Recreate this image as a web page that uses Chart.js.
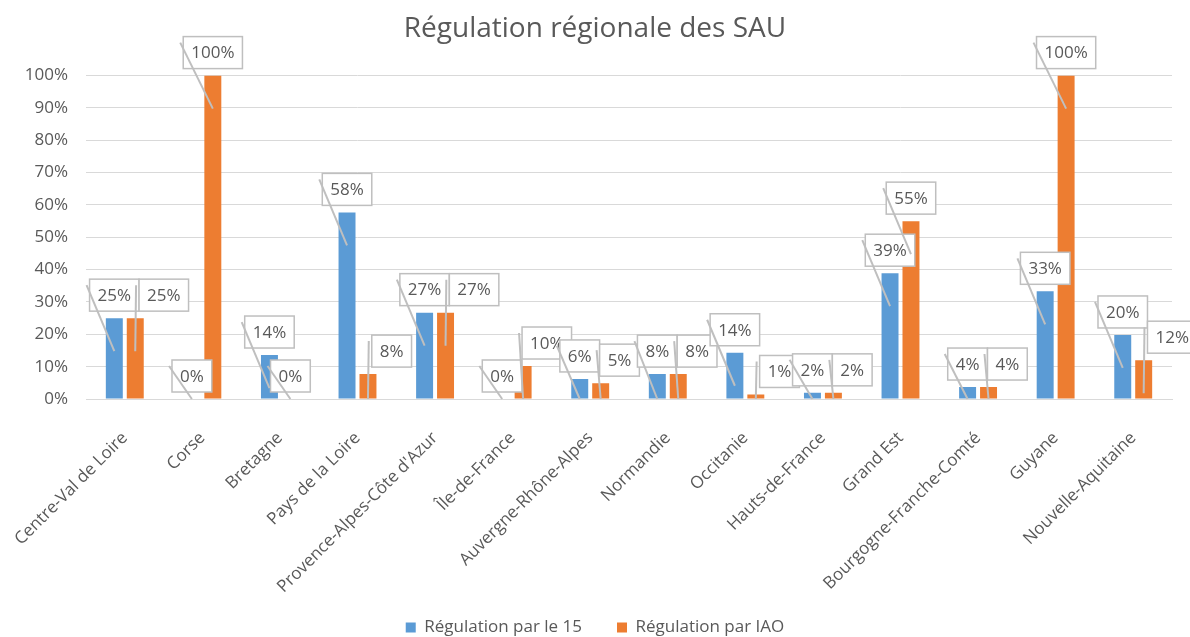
<!DOCTYPE html>
<html>
<head>
<meta charset="utf-8">
<script src="https://cdn.jsdelivr.net/npm/chart.js@4"></script>
<style>
  html, body { margin: 0; padding: 0; background: #fff; }
  #wrap { width: 1190px; height: 637px; }
</style>
</head>
<body>
<div id="wrap"><canvas id="chart" width="1190" height="637"></canvas></div>
<script>
// données
const categories = [
    'Centre-Val de Loire', 'Corse', 'Bretagne', 'Pays de la Loire',
    'Provence-Alpes-Côte d\'Azur', 'Île-de-France', 'Auvergne-Rhône-Alpes',
    'Normandie', 'Occitanie', 'Hauts-de-France', 'Grand Est',
    'Bourgogne-Franche-Comté', 'Guyane', 'Nouvelle-Aquitaine'
];
const valuesSamu = [25, 0, 13.6, 57.7, 26.7, 0, 6.2, 7.7, 14.3, 1.9, 38.9, 3.7, 33.3, 19.8];
const valuesIao = [25, 100, 0, 7.7, 26.7, 10.2, 4.9, 7.7, 1.4, 1.9, 55, 3.7, 100, 12];
const seriesNames = ['Régulation par le 15', 'Régulation par IAO'];
const yMax = 100;
const yStep = 10;

const FONT = '"Open Sans", "DejaVu Sans", sans-serif';
const GREY_TEXT = '#595959';
const GREY_LINE = '#BFBFBF';

// étiquettes encadrées avec ligne de rappel (style Excel)
function makeBox(ctx, bar, value) {
    const text = Math.round(value) + '%';
    const w = ctx.measureText(text).width + 16;
    const h = 32;
    return { text: text, x: bar.x - w / 2, y: bar.y - 7 - h, w: w, h: h, cx: bar.x };
}

const labelBoxes = {
    id: 'labelBoxes',
    afterLayout(chart) {
        // laisser déborder les libellés inclinés vers la légende
        chart.scales.x.bottom += 25;
    },
    afterDatasetsDraw(chart) {
        const ctx = chart.ctx;
        const bars0 = chart.getDatasetMeta(0).data;
        const bars1 = chart.getDatasetMeta(1).data;
        const base = chart.scales.y.getPixelForValue(0);
        ctx.save();
        ctx.font = '17px ' + FONT;
        const boxes = [];
        categories.forEach((c, i) => {
            const a = makeBox(ctx, bars0[i], valuesSamu[i]);
            const b = makeBox(ctx, bars1[i], valuesIao[i]);
            // décaler l'étiquette IAO quand elle gêne celle du 15
            const near = b.y < a.y + a.h + 11 && b.y + b.h + 11 > a.y;
            const blueRight = bars0[i].x + bars0[i].width / 2;
            const onBar = b.x < blueRight && b.y - 20 > bars0[i].y;
            if (b.x < a.x + a.w && (near || onBar)) b.x = a.x + a.w;
            boxes.push(a, b);
        });

        boxes.forEach(bx => {
            ctx.fillStyle = '#fff';
            ctx.fillRect(bx.x, bx.y, bx.w, bx.h);
            ctx.strokeStyle = GREY_LINE;
            ctx.lineWidth = 1.5;
            ctx.strokeRect(bx.x, bx.y, bx.w, bx.h);
            ctx.fillStyle = GREY_TEXT;
            ctx.textAlign = 'center';
            ctx.textBaseline = 'middle';
            ctx.fillText(bx.text, bx.x + bx.w / 2, bx.y + bx.h / 2 + 1);
        });

        ctx.strokeStyle = GREY_LINE;
        ctx.lineWidth = 2;
        boxes.forEach(bx => {
            ctx.beginPath();
            ctx.moveTo(bx.x - 3, bx.y + 6);
            ctx.lineTo(bx.cx, Math.min(bx.y + bx.h + 40, base));
            ctx.stroke();
        });
        ctx.restore();
    }
};

new Chart(document.getElementById('chart'), {
    type: 'bar',
    data: {
        labels: categories,
        datasets: [
            {
                label: seriesNames[0],
                data: valuesSamu,
                backgroundColor: '#5B9BD5',
                categoryPercentage: 0.54,
                barPercentage: 0.81
            },
            {
                label: seriesNames[1],
                data: valuesIao,
                backgroundColor: '#ED7D31',
                categoryPercentage: 0.54,
                barPercentage: 0.81
            }
        ]
    },
    options: {
        responsive: false,
        animation: false,
        layout: { padding: { left: 0, right: 0, top: 0, bottom: -9 } },
        plugins: {
            title: {
                display: true,
                text: 'Régulation régionale des SAU',
                color: GREY_TEXT,
                font: { family: FONT, size: 28, weight: 'normal' },
                padding: { top: 12, bottom: 30 }
            },
            legend: {
                position: 'bottom',
                labels: {
                    color: GREY_TEXT,
                    font: { family: FONT, size: 17 },
                    boxWidth: 10,
                    boxHeight: 10,
                    padding: 35
                }
            },
            tooltip: { enabled: false }
        },
        scales: {
            x: {
                grid: { display: false },
                border: { color: '#D9D9D9' },
                ticks: {
                    color: GREY_TEXT,
                    font: { family: FONT, size: 17 },
                    minRotation: 45,
                    maxRotation: 45,
                    autoSkip: false,
                    padding: 21
                },
                afterFit(scale) {
                    scale.height = 185;
                    scale.paddingLeft = 0;
                    scale.paddingRight = 18;
                }
            },
            y: {
                min: 0,
                max: yMax,
                grid: { color: '#D9D9D9', lineWidth: 1, drawTicks: false },
                border: { display: false },
                ticks: {
                    stepSize: yStep,
                    color: GREY_TEXT,
                    font: { family: FONT, size: 17 },
                    padding: 18,
                    callback: v => v + '%'
                },
                afterFit(scale) {
                    scale.width = 86;
                }
            }
        }
    },
    plugins: [labelBoxes]
});
</script>
</body>
</html>
